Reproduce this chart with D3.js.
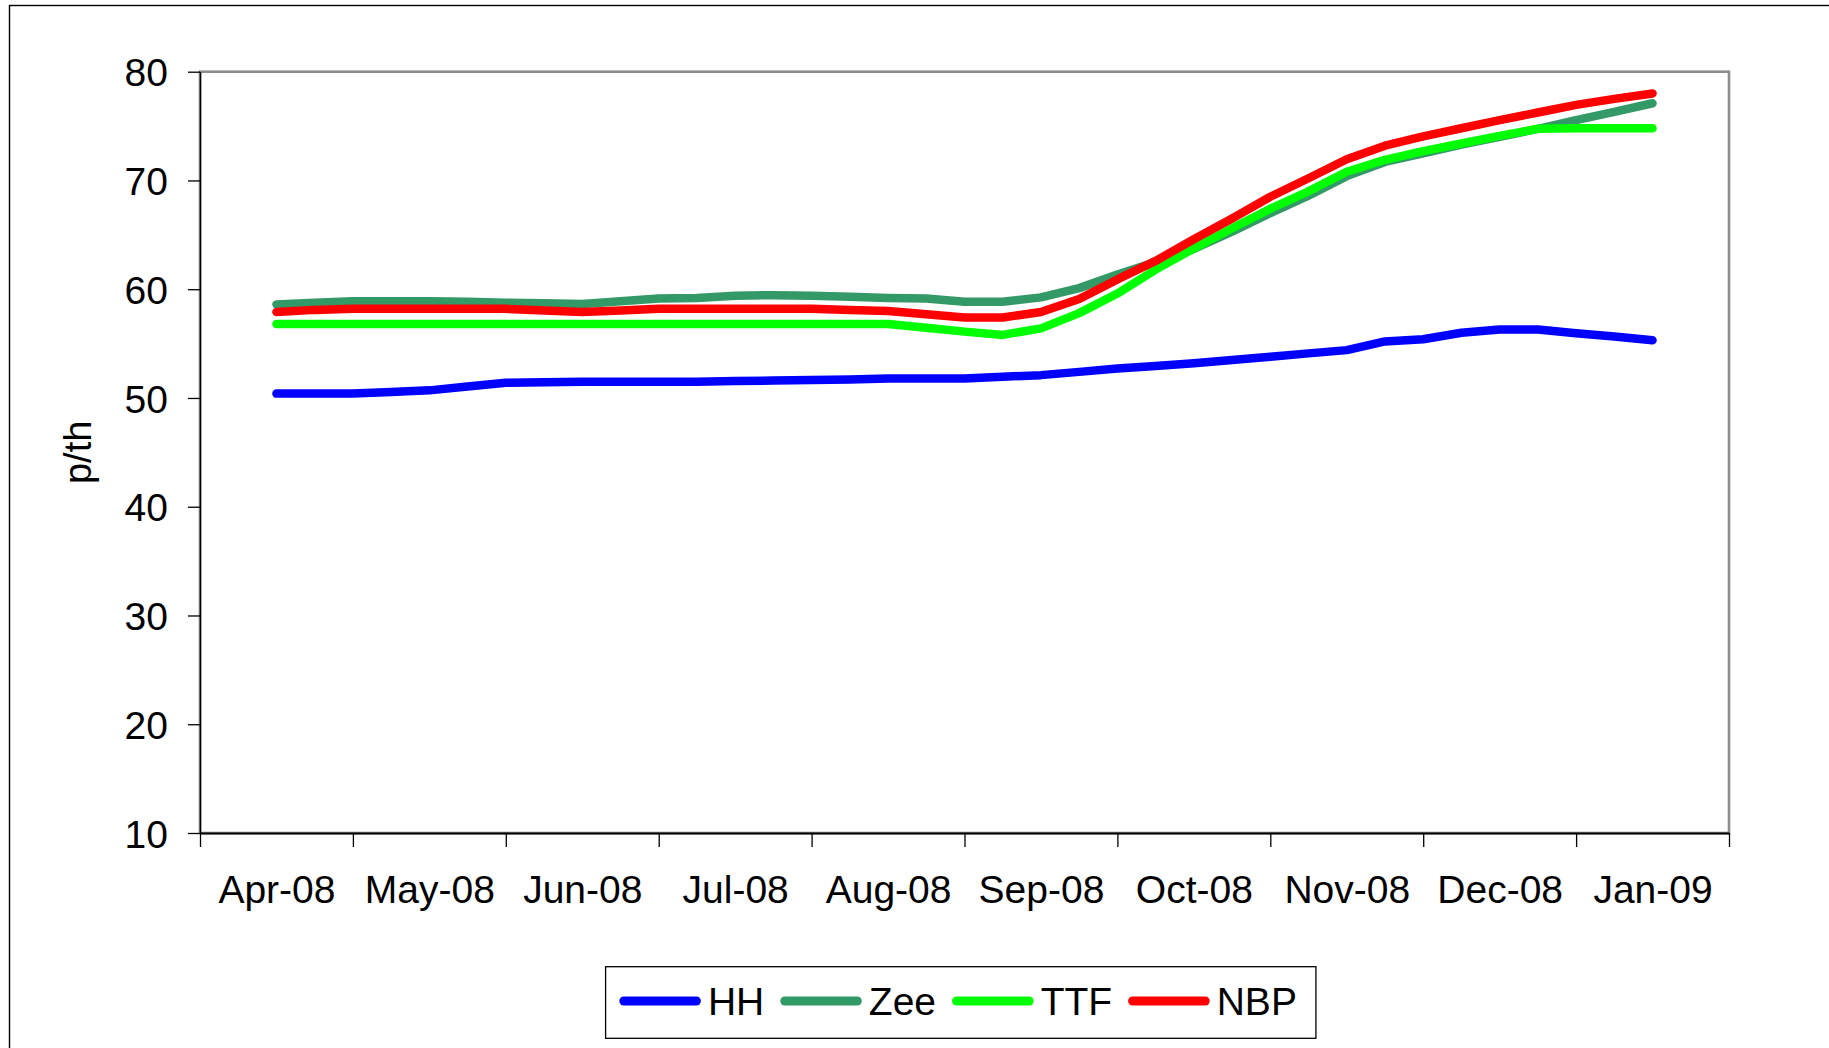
<!DOCTYPE html>
<html>
<head>
<meta charset="utf-8">
<script src="https://cdn.jsdelivr.net/npm/d3@7"></script>
<style>
html, body { margin: 0; padding: 0; background: #ffffff; overflow: hidden; }
svg { display: block; }
</style>
</head>
<body>
<svg id="chart" width="1829" height="1048"></svg>
<script>
// ---- data ----
const months = ["Apr-08", "May-08", "Jun-08", "Jul-08", "Aug-08", "Sep-08", "Oct-08", "Nov-08", "Dec-08", "Jan-09"];
const samplesPerMonth = 4; // roughly weekly readings, Apr-08 .. Jan-09
const seriesNames = ["HH", "Zee", "TTF", "NBP"];
const yTicks = [10, 20, 30, 40, 50, 60, 70, 80];
const yLabel = "p/th";

const hh  = [50.4, 50.4, 50.4, 50.55, 50.7, 51.05, 51.4, 51.45, 51.5, 51.5, 51.5, 51.5, 51.55, 51.6, 51.65, 51.7,
             51.8, 51.8, 51.8, 51.95, 52.1, 52.4, 52.7, 52.95, 53.2, 53.5, 53.8, 54.1, 54.4, 55.2, 55.4, 56.0,
             56.3, 56.3, 55.95, 55.65, 55.3];
const zee = [58.6, 58.75, 58.9, 58.9, 58.9, 58.85, 58.75, 58.7, 58.65, 58.9, 59.15, 59.2, 59.4, 59.45, 59.4, 59.3,
             59.2, 59.15, 58.85, 58.85, 59.25, 60.1, 61.35, 62.5, 63.7, 65.3, 67.0, 68.6, 70.4, 71.7, 72.5, 73.3,
             74.0, 74.75, 75.55, 76.3, 77.1];
const ttf = [56.8, 56.8, 56.8, 56.8, 56.8, 56.8, 56.8, 56.8, 56.8, 56.8, 56.8, 56.8, 56.8, 56.8, 56.8, 56.8,
             56.8, 56.45, 56.1, 55.8, 56.4, 57.8, 59.6, 61.8, 63.75, 65.6, 67.4, 69.0, 70.8, 71.9, 72.7, 73.4,
             74.1, 74.75, 74.8, 74.8, 74.8];
const nbp = [57.9, 58.1, 58.2, 58.2, 58.2, 58.2, 58.2, 58.05, 57.9, 58.05, 58.2, 58.2, 58.2, 58.2, 58.2, 58.1,
             58.0, 57.7, 57.4, 57.4, 57.9, 59.1, 60.9, 62.6, 64.6, 66.5, 68.5, 70.2, 71.95, 73.2, 74.05, 74.8,
             75.55, 76.25, 76.95, 77.5, 78.0];

// ---- styles ----
const seriesColors = ["#0000FF", "#339966", "#00FF00", "#FF0000"];
const FONT = "'Liberation Sans', Arial, Helvetica, sans-serif";

const seriesData = [hh, zee, ttf, nbp];

const svg = d3.select("#chart");
const W = 1829, H = 1048;
const plot = { left: 200, right: 1729, top: 71.7, bottom: 833 };

// outer chart-area border (right/bottom edges fall outside the picture)
svg.append("rect")
  .attr("x", 9.5).attr("y", 5.5)
  .attr("width", W + 20).attr("height", H + 20)
  .attr("fill", "#ffffff").attr("stroke", "#000000").attr("stroke-width", 1.4);

const x = d3.scaleLinear().domain([-0.5, months.length - 0.5]).range([plot.left, plot.right]);
const y = d3.scaleLinear().domain([10, 80]).range([plot.bottom, plot.top]);

// plot area border
svg.append("rect")
  .attr("x", plot.left).attr("y", plot.top)
  .attr("width", plot.right - plot.left).attr("height", plot.bottom - plot.top)
  .attr("fill", "none").attr("stroke", "#8c8c8c").attr("stroke-width", 2.6);

// y axis
const yAxis = svg.append("g")
  .attr("transform", `translate(${plot.left},0)`)
  .call(d3.axisLeft(y).tickValues(yTicks).tickSize(12).tickSizeOuter(0).tickPadding(20));
yAxis.select(".domain").attr("stroke", "#000").attr("stroke-width", 1.5);
yAxis.selectAll(".tick line").attr("stroke", "#000").attr("stroke-width", 1.3);
yAxis.selectAll(".tick text")
  .attr("font-family", FONT).attr("font-size", 39).attr("fill", "#000").attr("dy", "0.36em");

// x axis: tick marks at month boundaries
const boundaries = d3.range(months.length + 1).map(i => i - 0.5);
const xAxis = svg.append("g")
  .attr("transform", `translate(0,${plot.bottom})`)
  .call(d3.axisBottom(x).tickValues(boundaries).tickSize(14).tickSizeOuter(0).tickFormat(""));
xAxis.select(".domain").attr("stroke", "#000").attr("stroke-width", 2.2);
xAxis.selectAll(".tick line").attr("stroke", "#000").attr("stroke-width", 1.3);

// x labels centred in each month
const xLab = svg.append("g")
  .attr("transform", `translate(0,${plot.bottom})`)
  .call(d3.axisBottom(x).tickValues(d3.range(months.length)).tickSize(0).tickPadding(42.8)
        .tickFormat(i => months[i]));
xLab.select(".domain").remove();
xLab.selectAll(".tick text")
  .attr("font-family", FONT).attr("font-size", 39).attr("fill", "#000");

// y label
svg.append("text")
  .attr("transform", `translate(91,${(plot.top + plot.bottom) / 2}) rotate(-90)`)
  .attr("text-anchor", "middle")
  .attr("font-family", FONT).attr("font-size", 38).attr("fill", "#000")
  .text(yLabel);

// lines
const line = d3.line()
  .x((d, i) => x(i / samplesPerMonth))
  .y(d => y(d))
  .curve(d3.curveLinear);

svg.append("g").selectAll("path")
  .data(seriesData)
  .join("path")
  .attr("d", d => line(d))
  .attr("fill", "none")
  .attr("stroke", (d, i) => seriesColors[i])
  .attr("stroke-width", 8.5)
  .attr("stroke-linecap", "round")
  .attr("stroke-linejoin", "round");

// legend
const legend = svg.append("g");
const legY = 1001;
const legStart = 619.3;
const swatchLen = 81.6, swatchW = 9, textGap = 7, entryGap = 16;
let cx = legStart;
const items = [];
seriesNames.forEach((name, i) => {
  const g = legend.append("g");
  g.append("line")
    .attr("x1", cx + swatchW / 2).attr("x2", cx + swatchLen - swatchW / 2)
    .attr("y1", legY).attr("y2", legY)
    .attr("stroke", seriesColors[i]).attr("stroke-width", swatchW).attr("stroke-linecap", "round");
  const t = g.append("text")
    .attr("x", cx + swatchLen + textGap).attr("y", legY)
    .attr("dy", "0.36em")
    .attr("font-family", FONT).attr("font-size", 39).attr("fill", "#000")
    .text(name);
  const tw = t.node().getComputedTextLength();
  cx = cx + swatchLen + textGap + tw + entryGap;
});
const legRight = cx - entryGap + 19;
legend.insert("rect", ":first-child")
  .attr("x", 605.6).attr("y", 966.7)
  .attr("width", legRight - 605.6).attr("height", 1038.3 - 966.7)
  .attr("fill", "#fff").attr("stroke", "#000").attr("stroke-width", 1.3);
</script>
</body>
</html>
